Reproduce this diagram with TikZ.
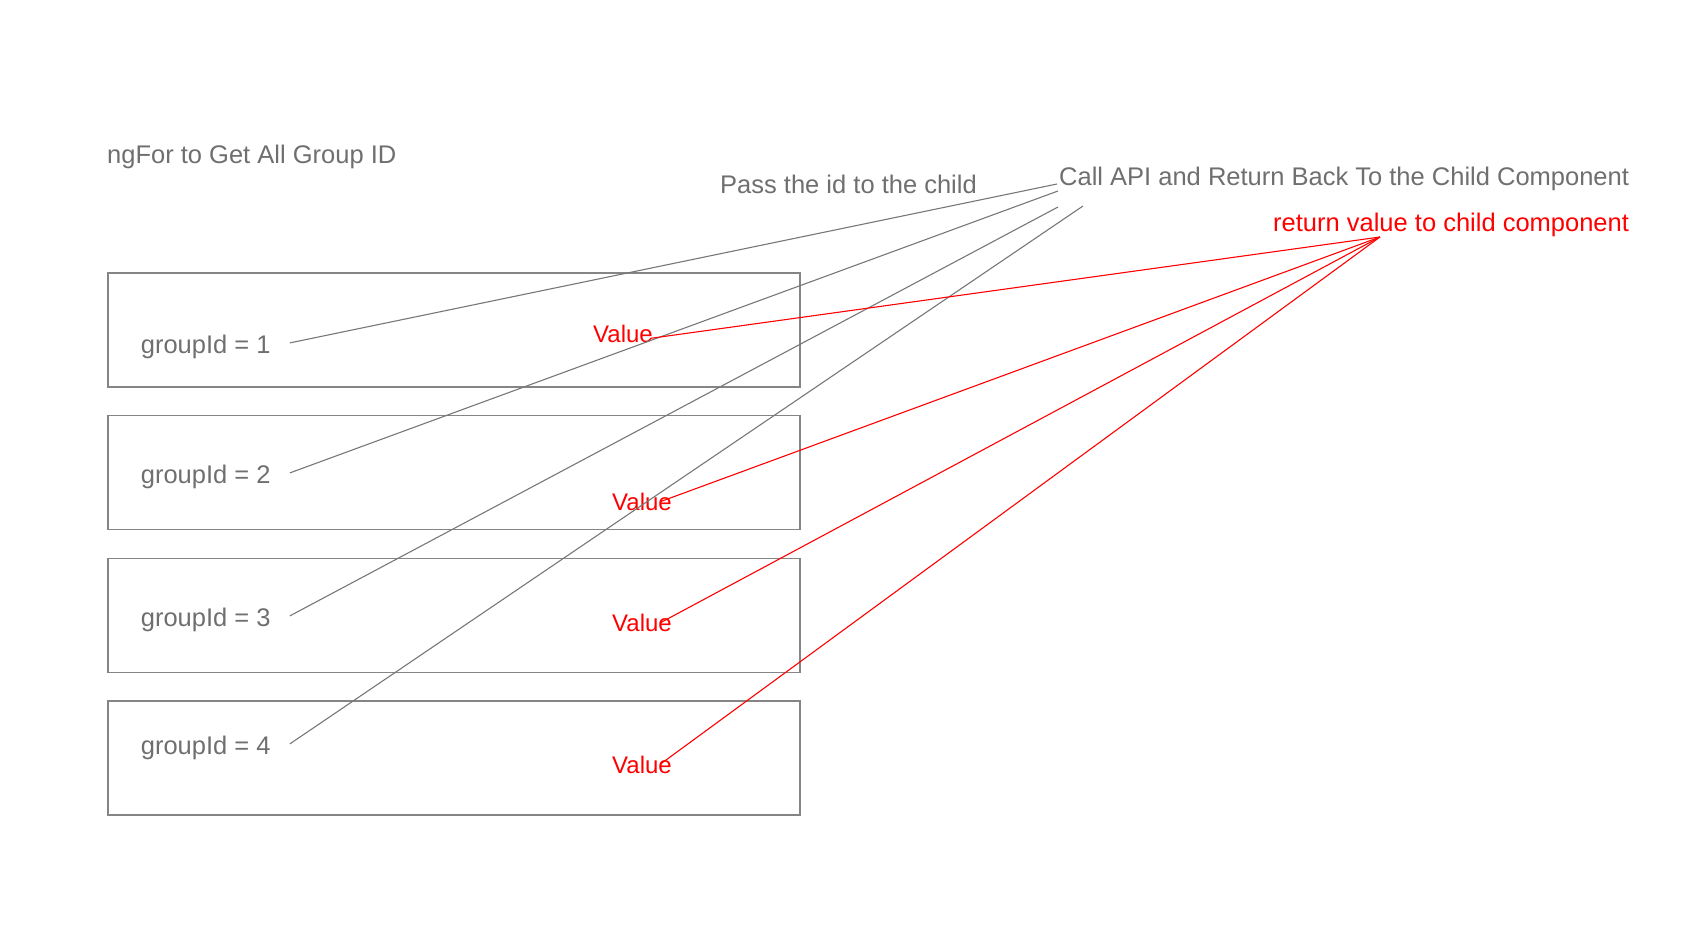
\documentclass[tikz,border=0pt]{standalone}
\usepackage{fontspec}
\setmainfont{Liberation Sans}
\definecolor{labelgray}{HTML}{6F6F6F}
\definecolor{linegray}{HTML}{777777}
\definecolor{boxgray}{HTML}{858585}
\definecolor{retred}{HTML}{FF0000}
\usetikzlibrary{positioning}

\begin{document}
\begin{tikzpicture}[
  x=1pt, y=-1pt,
  groupbox/.style={draw=boxgray, line width=1.3pt, minimum width=692pt, minimum height=114pt, inner sep=0pt},
  txt/.style={anchor=base west, inner sep=0pt, font=\fontsize{25.5}{30}\selectfont, text=labelgray},
  valtxt/.style={anchor=base west, inner sep=0pt, font=\fontsize{24}{28}\selectfont, text=retred},
  pass/.style={line width=1.1pt, linegray},
  ret/.style={line width=1.1pt, retred}
]
\useasboundingbox (0,0) rectangle (1698,928);

% headers
\node[txt] (ngfor) at (107,164)  {ngFor to Get All Group ID};
\node[txt] (passid) at (720,194) {Pass the id to the child};
\node[txt] (callapi) at (1059,186) {Call API and Return Back To the Child Component};
\node[txt, text=retred] (retval) at (1273,232) {return value to child component};

% child components
\node[groupbox] (box1) at (454,330)   {};
\node[groupbox] (box2) at (454,472.7) {};
\node[groupbox] (box3) at (454,615.4) {};
\node[groupbox] (box4) at (454,758.1) {};

\node[txt] (gid1) at (140.7,353) {groupId = 1};
\node[txt] (gid2) at (140.7,483) {groupId = 2};
\node[txt] (gid3) at (140.7,626) {groupId = 3};
\node[txt] (gid4) at (140.7,754) {groupId = 4};

\node[valtxt] (val1) at (593,342) {Value};
\node[valtxt] (val2) at (612,510) {Value};
\node[valtxt] (val3) at (612,631) {Value};
\node[valtxt] (val4) at (612,773) {Value};

% line ends near the api text
\coordinate (api1) at (1057,184);
\coordinate (api2) at (1058,191);
\coordinate (api3) at (1058,207);
\coordinate (api4) at (1083,206);
\coordinate (back) at (1380,237);

\draw[pass] ([xshift=19pt,yshift=3.5pt]gid1.east) -- (api1);
\draw[pass] ([xshift=19pt,yshift=3.5pt]gid2.east) -- (api2);
\draw[pass] ([xshift=19pt,yshift=3.5pt]gid3.east) -- (api3);
\draw[pass] ([xshift=19pt,yshift=3.5pt]gid4.east) -- (api4);

\draw[ret] ([xshift=-3pt,yshift=-5pt]val1.east) -- (back);
\draw[ret] ([xshift=-11pt]val2.east) -- (back);
\draw[ret] ([xshift=-11pt]val3.east) -- (back);
\draw[ret] ([xshift=-12pt]val4.east) -- (back);
\end{tikzpicture}
\end{document}
